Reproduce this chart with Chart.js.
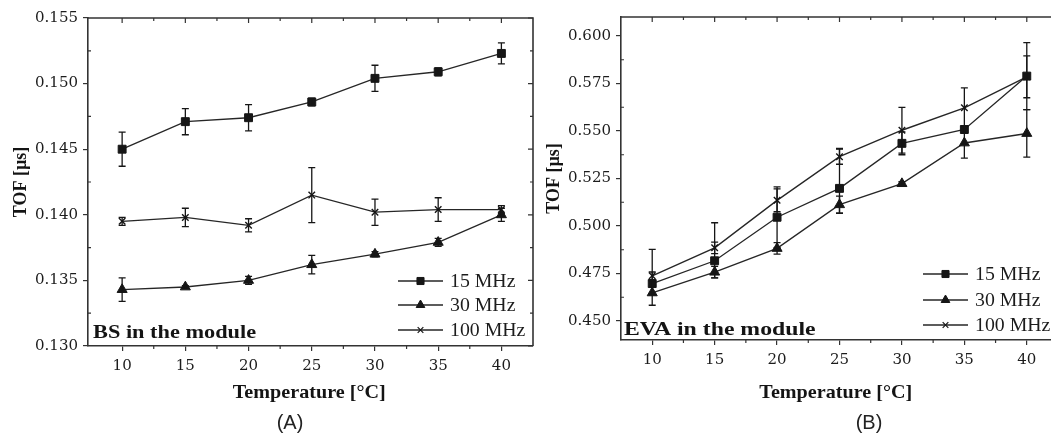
<!DOCTYPE html>
<html>
<head>
<meta charset="utf-8">
<script src="https://cdn.jsdelivr.net/npm/chart.js@4.4.1/dist/chart.umd.min.js"></script>
<style>
    html, body { margin: 0; padding: 0; background: #fff; overflow: hidden; }
    .panel { position: absolute; top: 0; height: 435px; }
    #wrapA { left: 0; width: 545px; }
    #wrapB { left: 540px; width: 525px; }
</style>
</head>
<body>
<div class="panel" id="wrapA"><canvas id="chartA"></canvas></div>
<div class="panel" id="wrapB"><canvas id="chartB"></canvas></div>
<script>
// ---- data ----
const temps = [10, 15, 20, 25, 30, 35, 40];
const xTickValues = [10, 15, 20, 25, 30, 35, 40];
const seriesLabels = ['15 MHz', '30 MHz', '100 MHz'];

// (A) BS in the module
const yTicksBS = [0.130, 0.135, 0.140, 0.145, 0.150, 0.155];
const bs15 = [0.1450, 0.1471, 0.1474, 0.1486, 0.1504, 0.1509, 0.1523];
const bs15Err = [0.0013, 0.0010, 0.0010, 0.0003, 0.0010, 0.0003, 0.0008];
const bs30 = [0.1343, 0.1345, 0.1350, 0.1362, 0.1370, 0.1379, 0.1400];
const bs30Err = [0.0009, 0.0001, 0.0003, 0.0007, 0.0002, 0.0003, 0.0005];
const bs100 = [0.1395, 0.1398, 0.1392, 0.1415, 0.1402, 0.1404, 0.1404];
const bs100Err = [0.0003, 0.0007, 0.0005, 0.0021, 0.0010, 0.0009, 0.0003];

// (B) EVA in the module
const yTicksEVA = [0.450, 0.475, 0.500, 0.525, 0.550, 0.575, 0.600];
const eva15 = [0.4697, 0.4817, 0.5046, 0.5198, 0.5435, 0.5508, 0.5789];
const eva15ErrUp = [0.018, 0.020, 0.016, 0.021, 0.006, 0.002, 0.0176];
const eva15ErrDown = [0.006, 0.009, 0.016, 0.013, 0.006, 0.002, 0.0176];
const eva30 = [0.4648, 0.4757, 0.4882, 0.5112, 0.5223, 0.5437, 0.5487];
const eva30Err = [0.0065, 0.003, 0.003, 0.0045, 0.001, 0.008, 0.0125];
const eva100 = [0.4738, 0.4885, 0.5135, 0.5365, 0.5504, 0.5622, 0.5785];
const eva100Err = [0.002, 0.003, 0.006, 0.004, 0.012, 0.0105, 0.011];

// marker look per series
const markerStyles = ['rect', 'triangle', 'crossRot'];
const markerRadius = [5.6, 5.8, 4.6];
const INK = '#161616';

Chart.defaults.font.family = "'DejaVu Serif', serif";
Chart.defaults.color = '#1c1c1c';

function buildSeries(values, errUp, errDown, i) {
    return {
        label: seriesLabels[i],
        data: temps.map((t, k) => ({ x: t, y: values[k] })),
        errUp: errUp,
        errDown: errDown,
        borderColor: '#262626',
        borderWidth: 1.35,
        pointStyle: markerStyles[i],
        pointRadius: markerRadius[i],
        pointHoverRadius: markerRadius[i],
        pointBackgroundColor: INK,
        pointBorderColor: INK,
        pointBorderWidth: i === 2 ? 1.4 : 1,
        tension: 0
    };
}

// horizontal stretched text (the figure's lettering is wide)
function wideText(ctx, text, x, y, font, sx, align) {
    ctx.save();
    ctx.font = font;
    ctx.translate(x, y);
    ctx.scale(sx, 1);
    ctx.textAlign = align;
    ctx.textBaseline = 'alphabetic';
    ctx.fillText(text, 0, 0);
    ctx.restore();
}

function midpoints(vals) {
    const out = [];
    for (let i = 0; i < vals.length - 1; i++) out.push((vals[i] + vals[i + 1]) / 2);
    return out;
}

// error bars, box frame, minor ticks, legend and labels
const panelDecor = {
    id: 'panelDecor',
    afterDatasetsDraw(chart) {
        const { ctx, scales: { y } } = chart;
        ctx.save();
        ctx.strokeStyle = INK;
        ctx.lineWidth = 1.3;
        chart.data.datasets.forEach((ds, i) => {
            const meta = chart.getDatasetMeta(i);
            meta.data.forEach((pt, k) => {
                const v = ds.data[k].y;
                const yTop = y.getPixelForValue(v + ds.errUp[k]);
                const yBot = y.getPixelForValue(v - ds.errDown[k]);
                ctx.beginPath();
                ctx.moveTo(pt.x, yTop); ctx.lineTo(pt.x, yBot);
                ctx.moveTo(pt.x - 3.5, yTop); ctx.lineTo(pt.x + 3.5, yTop);
                ctx.moveTo(pt.x - 3.5, yBot); ctx.lineTo(pt.x + 3.5, yBot);
                ctx.stroke();
            });
        });
        ctx.restore();
    },
    afterDraw(chart, args, opts) {
        const { ctx, chartArea, scales: { x, y } } = chart;
        const { left, right, top, bottom } = chartArea;
        ctx.save();

        // top + right border
        ctx.strokeStyle = '#333';
        ctx.lineWidth = 1.6;
        ctx.beginPath();
        ctx.moveTo(left, top); ctx.lineTo(right, top); ctx.lineTo(right, bottom);
        ctx.stroke();

        // tick marks on the other sides + minor ticks
        ctx.lineWidth = 1.2;
        const xMaj = x.ticks.map(t => t.value);
        const yMaj = y.ticks.map(t => t.value);
        ctx.beginPath();
        xMaj.forEach(v => {
            const px = x.getPixelForValue(v);
            ctx.moveTo(px, top); ctx.lineTo(px, top + 5);
        });
        midpoints(xMaj).forEach(v => {
            const px = x.getPixelForValue(v);
            ctx.moveTo(px, top); ctx.lineTo(px, top + 3);
            ctx.moveTo(px, bottom); ctx.lineTo(px, bottom + 3);
        });
        yMaj.forEach(v => {
            const py = y.getPixelForValue(v);
            ctx.moveTo(right, py); ctx.lineTo(right - 5, py);
        });
        midpoints(yMaj).forEach(v => {
            const py = y.getPixelForValue(v);
            ctx.moveTo(left, py); ctx.lineTo(left + 3, py);
            ctx.moveTo(right, py); ctx.lineTo(right - 3, py);
        });
        ctx.stroke();

        // legend (bottom right)
        const lx = right - 135;
        chart.data.datasets.forEach((ds, i) => {
            const ly = bottom - opts.legendRows[i];
            ctx.strokeStyle = '#262626';
            ctx.lineWidth = 1.35;
            ctx.beginPath();
            ctx.moveTo(lx, ly); ctx.lineTo(lx + 45, ly);
            ctx.stroke();
            ctx.fillStyle = INK;
            ctx.strokeStyle = INK;
            ctx.lineWidth = i === 2 ? 1.2 : 1;
            Chart.helpers.drawPoint(ctx, {
                pointStyle: markerStyles[i],
                radius: i === 2 ? 4 : 5,
                borderWidth: 1,
                rotation: 0
            }, lx + 22.5, ly);
            ctx.fillStyle = '#1c1c1c';
            wideText(ctx, ds.label, lx + 52, ly + 6, "18px 'Liberation Serif'", 1.1, 'left');
        });

        // in-plot note
        ctx.fillStyle = '#141414';
        wideText(ctx, opts.note, left + opts.noteDx, bottom - opts.noteDy,
            opts.noteFont, opts.noteScale, 'left');

        // axis titles
        wideText(ctx, 'Temperature [°C]', x.getPixelForValue(opts.titleAt), 398,
            "bold 19px 'Liberation Serif'", 1.06, 'center');
        ctx.save();
        ctx.translate(left - 67, (top + bottom) / 2);
        ctx.rotate(-Math.PI / 2);
        ctx.font = "bold 18px 'Liberation Serif'";
        ctx.textAlign = 'center';
        ctx.textBaseline = 'middle';
        ctx.fillText('TOF [µs]', 0, 0);
        ctx.restore();

        // panel caption
        ctx.fillStyle = '#222';
        ctx.font = "20px 'Liberation Sans'";
        ctx.textAlign = 'center';
        ctx.textBaseline = 'alphabetic';
        ctx.fillText(opts.caption, opts.captionX, 429);

        ctx.restore();
    }
};

function makePanel(canvasId, datasets, p) {
    const axisLine = { color: '#333', width: 1.6 };
    const tickGrid = { drawOnChartArea: false, drawTicks: true, tickLength: 5, color: '#333', lineWidth: 1.2 };
    return new Chart(document.getElementById(canvasId), {
        type: 'line',
        data: { datasets: datasets },
        plugins: [panelDecor],
        options: {
            responsive: true,
            maintainAspectRatio: false,
            animation: false,
            layout: { padding: { top: p.padTop, right: p.padRight, bottom: 0, left: 0 } },
            plugins: {
                legend: { display: false },
                tooltip: { enabled: false },
                panelDecor: p.decor
            },
            scales: {
                x: {
                    type: 'linear',
                    min: p.xMin,
                    max: 42.5,
                    border: axisLine,
                    grid: tickGrid,
                    afterBuildTicks: s => { s.ticks = xTickValues.map(v => ({ value: v })); },
                    afterFit: s => { s.height = p.xAxisHeight; },
                    ticks: { autoSkip: false, maxRotation: 0, padding: 6, font: { size: 15 }, callback: v => String(v) }
                },
                y: {
                    type: 'linear',
                    min: p.yMin,
                    max: p.yMax,
                    border: axisLine,
                    grid: tickGrid,
                    afterBuildTicks: s => { s.ticks = p.yTicks.map(v => ({ value: v })); },
                    afterFit: s => { s.width = p.yAxisWidth; },
                    ticks: { autoSkip: false, padding: 5, font: { size: 15 }, callback: v => v.toFixed(3) }
                }
            }
        }
    });
}

// (A)
makePanel('chartA', [
    buildSeries(bs15, bs15Err, bs15Err, 0),
    buildSeries(bs30, bs30Err, bs30Err, 1),
    buildSeries(bs100, bs100Err, bs100Err, 2)
], {
    padTop: 18, padRight: 12, xAxisHeight: 89, yAxisWidth: 88,
    xMin: 7.3, yMin: 0.130, yMax: 0.155, yTicks: yTicksBS,
    decor: {
        note: 'BS in the module', noteDx: 5, noteDy: 8,
        noteFont: "bold 18px 'Liberation Serif'", noteScale: 1.24,
        legendRows: [65, 41, 16], titleAt: 24.8,
        caption: '(A)', captionX: 290
    }
});

// (B)
makePanel('chartB', [
    buildSeries(eva15, eva15ErrUp, eva15ErrDown, 0),
    buildSeries(eva30, eva30Err, eva30Err, 1),
    buildSeries(eva100, eva100Err, eva100Err, 2)
], {
    padTop: 17, padRight: 7, xAxisHeight: 95, yAxisWidth: 81,
    xMin: 7.5, yMin: 0.44, yMax: 0.61, yTicks: yTicksEVA,
    decor: {
        note: 'EVA in the module', noteDx: 3, noteDy: 5,
        noteFont: "bold 19px 'Liberation Serif'", noteScale: 1.25,
        legendRows: [66, 40, 15], titleAt: 24.7,
        caption: '(B)', captionX: 329
    }
});
</script>
</body>
</html>
